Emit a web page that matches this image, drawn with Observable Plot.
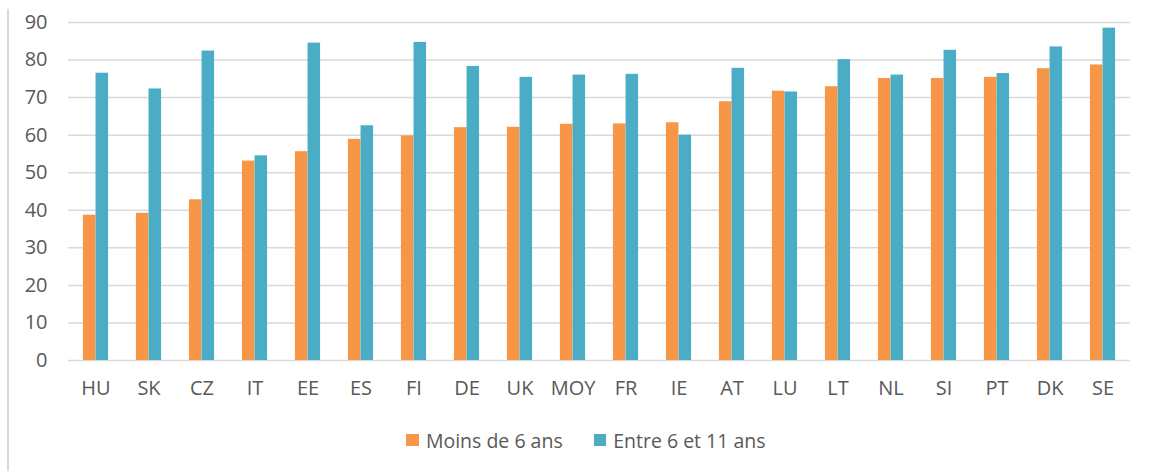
<!DOCTYPE html>
<html>
<head>
<meta charset="utf-8">
<script src="https://cdn.jsdelivr.net/npm/d3@7"></script>
<script src="https://cdn.jsdelivr.net/npm/@observablehq/plot@0.6"></script>
<style>
  html, body { margin: 0; padding: 0; background: #fff; }
  #wrap { position: relative; width: 1149px; height: 471px; font-family: "Open Sans", sans-serif; }
  #border { position: absolute; left: 7px; top: 9px; width: 2px; height: 462px; background: #d9d9d9; }
  #legend { position: absolute; left: 0; top: 410px; width: 1149px; height: 60px; padding-left: 23px; box-sizing: border-box; display: flex; justify-content: center; align-items: center; gap: 0; font-size: 19.5px; color: #595959; }
  .item { display: flex; align-items: center; }
  .sw { width: 12.5px; height: 12.5px; margin-right: 7px; }
</style>
</head>
<body>
<div id="wrap"><div id="border"></div><div id="chart"></div><div id="legend"></div></div>
<script>
const countries = ["HU","SK","CZ","IT","EE","ES","FI","DE","UK","MOY","FR","IE","AT","LU","LT","NL","SI","PT","DK","SE"];
const moinsDe6 = [38.7,39.2,42.8,53.1,55.6,58.9,59.8,62.0,62.1,62.9,63.0,63.3,68.9,71.7,72.9,75.1,75.1,75.4,77.7,78.7];
const entre6et11 = [76.5,72.3,82.4,54.5,84.5,62.5,84.7,78.3,75.4,76.0,76.2,60.0,77.8,71.5,80.1,76.0,82.6,76.4,83.5,88.5];
const seriesNames = ["Moins de 6 ans", "Entre 6 et 11 ans"];
const seriesColors = ["#F79646", "#4BACC6"];
const yTicks = [0,10,20,30,40,50,60,70,80,90];

const rowsA = countries.map((c, i) => ({country: c, value: moinsDe6[i], series: seriesNames[0]}));
const rowsB = countries.map((c, i) => ({country: c, value: entre6et11[i], series: seriesNames[1]}));

const W = 1149, mL = 68, mR = 19;
const step = (W - mL - mR) / countries.length;
const group = step * 0.476;
const side = (step - group) / 2;
const barW = group / 2;

const chart = Plot.plot({
  width: W,
  height: 410,
  marginLeft: mL,
  marginRight: mR,
  marginTop: 22,
  marginBottom: 50,
  style: {fontFamily: "Open Sans, sans-serif", fontSize: "20px", color: "#595959", background: "transparent"},
  x: {domain: countries, padding: 0, label: null, tickSize: 0, tickPadding: 20},
  y: {domain: [0, 90], ticks: yTicks, label: null, tickSize: 0, tickPadding: 21},
  color: {domain: seriesNames, range: seriesColors},
  marks: [
    Plot.ruleY(yTicks, {stroke: "#d9d9d9", strokeWidth: 1.5}),
    Plot.barY(rowsA, {x: "country", y: "value", fill: "series", insetLeft: side, insetRight: side + barW}),
    Plot.barY(rowsB, {x: "country", y: "value", fill: "series", insetLeft: side + barW, insetRight: side})
  ]
});
document.getElementById("chart").appendChild(chart);

const legend = document.getElementById("legend");
seriesNames.forEach((name, i) => {
  const item = document.createElement("div");
  item.className = "item";
  item.style.marginRight = i === 0 ? "31px" : "0";
  const sw = document.createElement("div");
  sw.className = "sw";
  sw.style.background = seriesColors[i];
  const t = document.createElement("span");
  t.textContent = name;
  item.appendChild(sw);
  item.appendChild(t);
  legend.appendChild(item);
});
</script>
</body>
</html>
